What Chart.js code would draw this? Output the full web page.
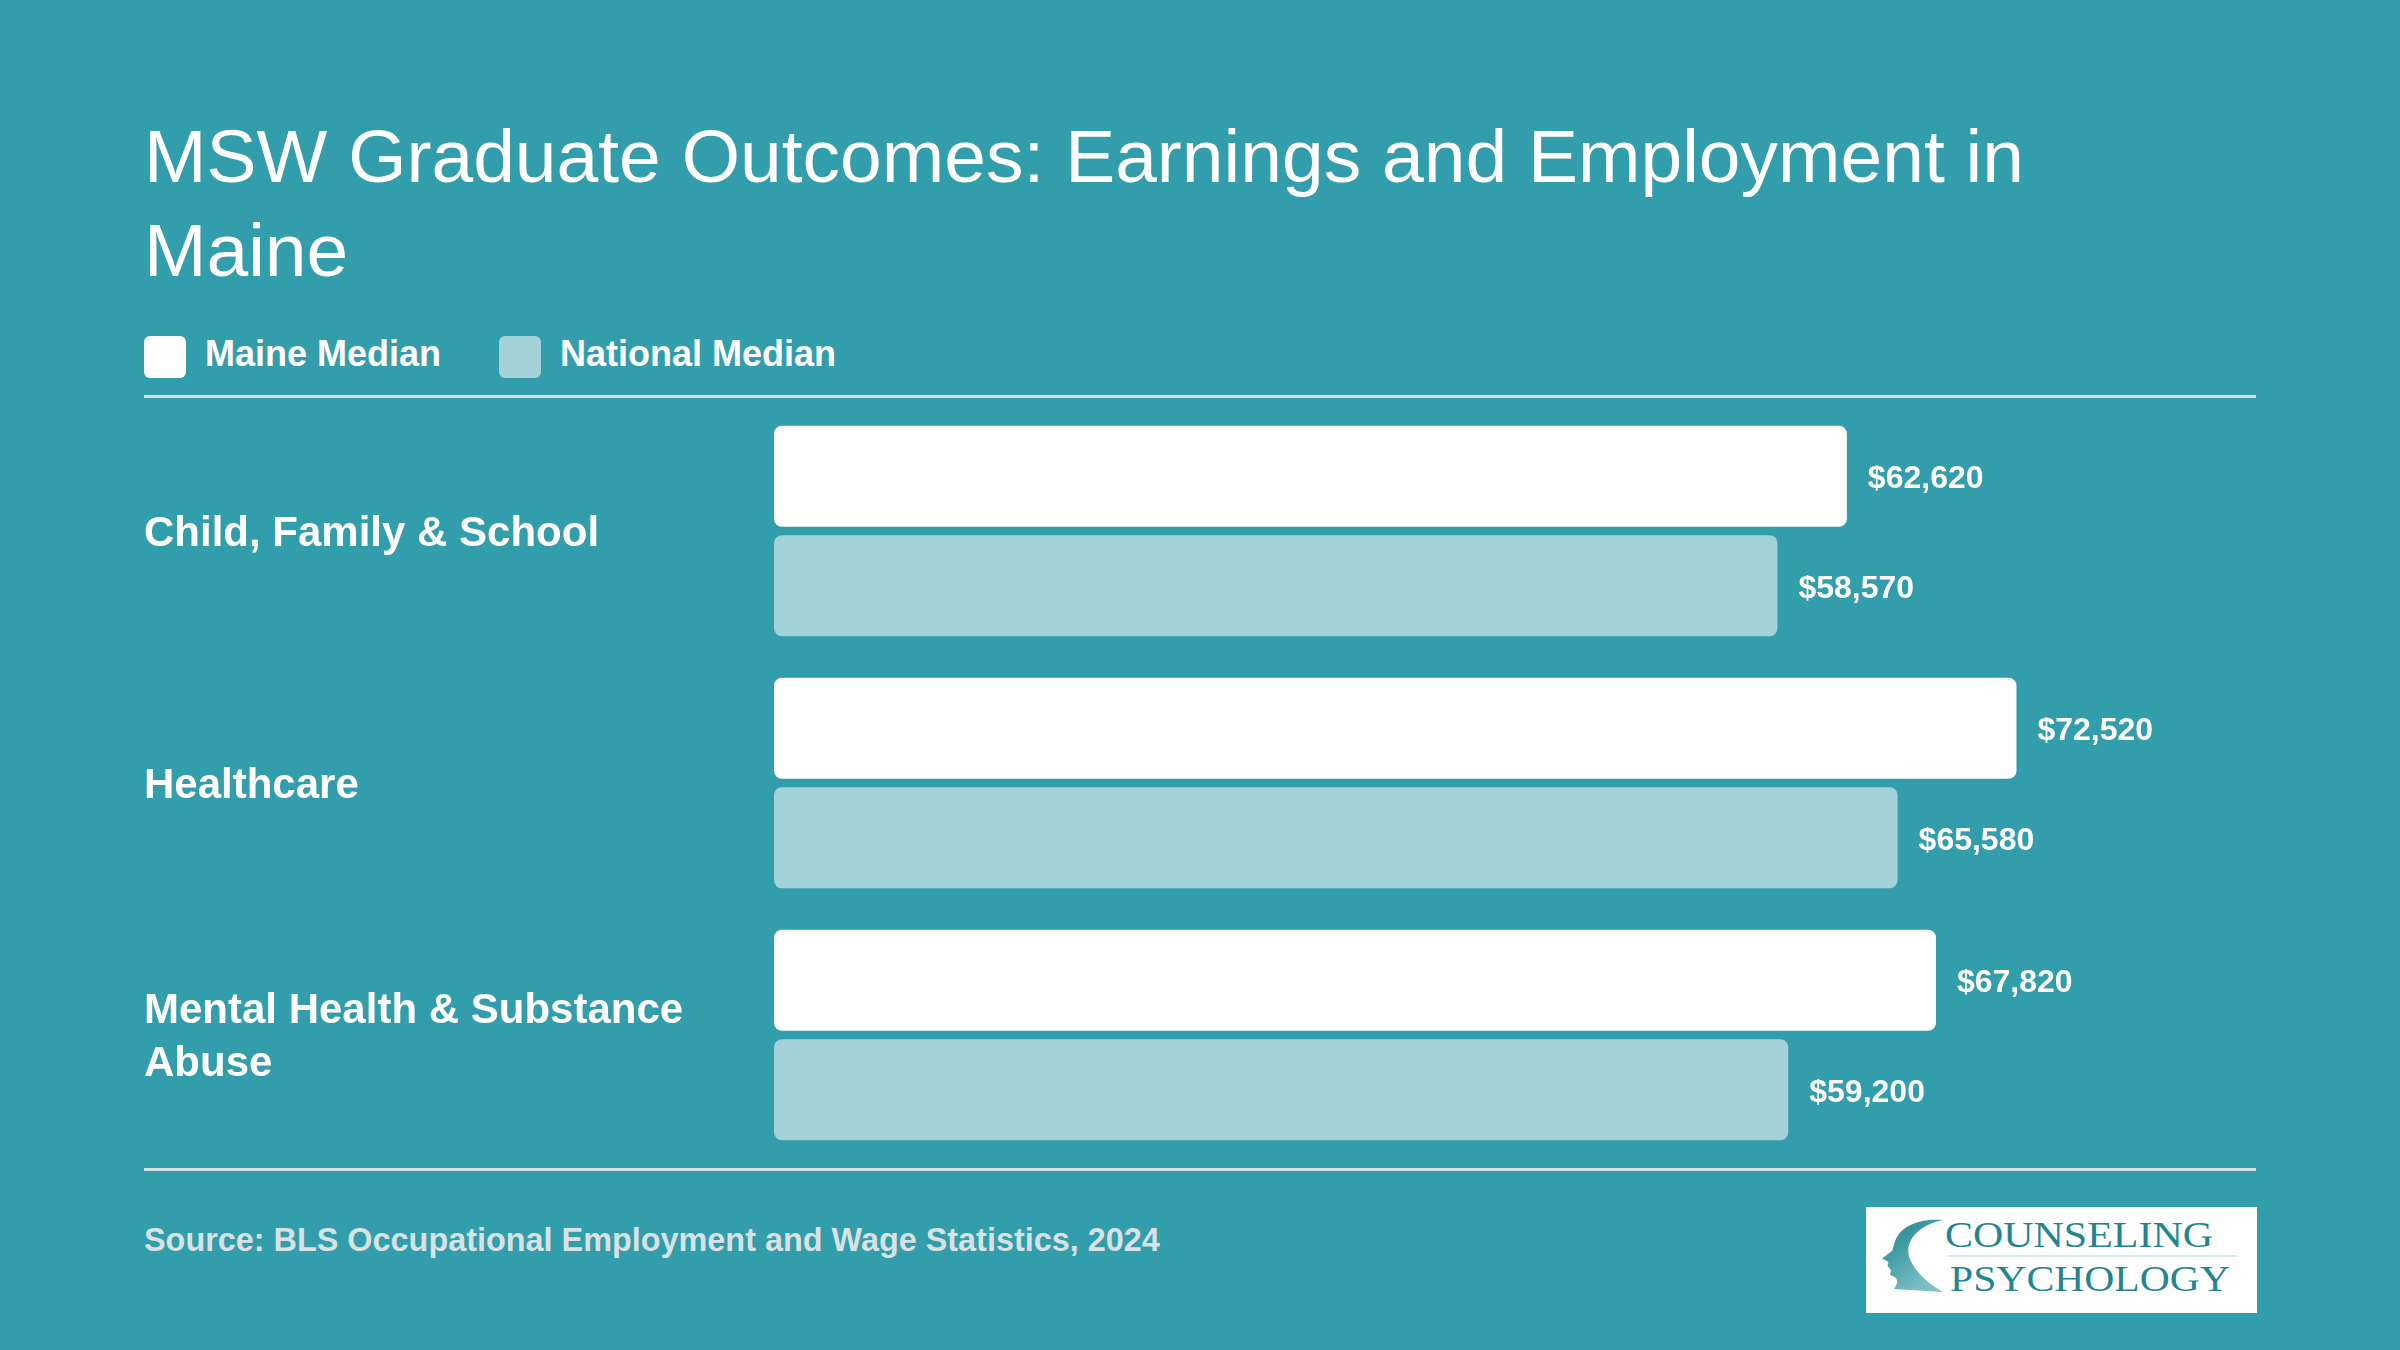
<!DOCTYPE html>
<html>
<head>
<meta charset="utf-8">
<script src="https://cdn.jsdelivr.net/npm/chart.js@4/dist/chart.umd.min.js"></script>
<style>
  body {
    margin: 0;
    width: 2400px;
    height: 1350px;
    background: #329dab;
    overflow: hidden;
    font-family: "Liberation Sans", Arial, sans-serif;
    position: relative;
  }
  #title {
    position: absolute;
    left: 144px;
    top: 110px;
    width: 2000px;
    color: #fff;
    font-size: 75px;
    line-height: 93.75px;
    font-weight: normal;
  }
  .legend-box {
    position: absolute;
    top: 336px;
    width: 42px;
    height: 42px;
    border-radius: 6px;
  }
  .legend-text {
    position: absolute;
    top: 336px;
    color: #fff;
    font-size: 36px;
    line-height: 36px;
    font-weight: bold;
    white-space: nowrap;
  }
  .rule {
    position: absolute;
    left: 144px;
    width: 2112px;
    height: 3px;
    background: #d6dfe2;
  }
  #chartWrap {
    position: absolute;
    left: 144px;
    top: 405px;
    width: 2112px;
    height: 756px;
  }
  #source {
    position: absolute;
    left: 144px;
    top: 1224px;
    color: #d9e1e4;
    font-size: 32.4px;
    line-height: 32px;
    font-weight: bold;
    white-space: nowrap;
  }
  #logo {
    position: absolute;
    left: 1866px;
    top: 1207px;
  }
</style>
</head>
<body>

<div id="title">MSW Graduate Outcomes: Earnings and Employment in Maine</div>

<div id="legend"></div>

<div class="rule" style="top:395px"></div>

<div id="chartWrap"><canvas id="chart" width="2112" height="756"></canvas></div>

<div class="rule" style="top:1168px"></div>

<div id="source">Source: BLS Occupational Employment and Wage Statistics, 2024</div>

<svg id="logo" width="391" height="106" viewBox="0 0 391 106">
  <defs>
    <linearGradient id="headGrad" x1="0" y1="0" x2="0.6" y2="1">
      <stop offset="0" stop-color="#17838e"/>
      <stop offset="1" stop-color="#7fbfc7"/>
    </linearGradient>
  </defs>
  <rect x="0" y="0" width="391" height="106" fill="#ffffff"/>
  <path fill="url(#headGrad)" d="M77 13 C57.3 11 36 17 29.5 33 L26 44 L16 51.5 L22.5 55 L21.5 59 L25 63 L24 68 C30.7 70.3 34 73 28 82 L77 85 C63 77 49 66 43 49.7 C39 33 53 18 77 13 Z"/>
  <text x="79" y="40" textLength="268" lengthAdjust="spacingAndGlyphs" font-family="'Liberation Serif', 'DejaVu Serif', serif" font-size="36" fill="#23858f">COUNSELING</text>
  <line x1="81" y1="49" x2="371" y2="49" stroke="#c6e3e7" stroke-width="1.5"/>
  <text x="84" y="84" textLength="280" lengthAdjust="spacingAndGlyphs" font-family="'Liberation Serif', 'DejaVu Serif', serif" font-size="35" fill="#23858f">PSYCHOLOGY</text>
</svg>

<script>
// data
const categories = ['Child, Family & School', 'Healthcare', ['Mental Health & Substance', 'Abuse']];
const seriesNames = ['Maine Median', 'National Median'];
const maineMedian = [62620, 72520, 67820];
const nationalMedian = [58570, 65580, 59200];
const seriesColors = ['#ffffff', '#a3d3d9'];

// legend (html)
const legend = document.getElementById("legend");
const legendX = [144, 499];
seriesNames.forEach((name, i) => {
    const box = document.createElement("div");
    box.className = "legend-box";
    box.style.left = legendX[i] + "px";
    box.style.background = seriesColors[i];
    legend.appendChild(box);

    const txt = document.createElement("div");
    txt.className = "legend-text";
    txt.style.left = (legendX[i] + 61) + "px";
    txt.innerText = name;
    legend.appendChild(txt);
});

// value labels at bar ends
const valueLabels = {
    id: 'valueLabels',
    afterDatasetsDraw(chart) {
        const ctx = chart.ctx;
        ctx.save();
        ctx.fillStyle = '#ffffff';
        ctx.font = 'bold 32px "Liberation Sans", Arial, sans-serif';
        ctx.textAlign = 'left';
        ctx.textBaseline = 'middle';
        chart.data.datasets.forEach((ds, di) => {
            chart.getDatasetMeta(di).data.forEach((bar, i) => {
                ctx.fillText('$' + ds.data[i].toLocaleString('en-US'), bar.x + 21, bar.y + 3);
            });
        });
        ctx.restore();
    }
};

new Chart(document.getElementById("chart"), {
    type: 'bar',
    data: {
        labels: categories,
        datasets: [{
            label: seriesNames[0],
            data: maineMedian,
            backgroundColor: seriesColors[0],
            borderRadius: 8,
            borderSkipped: false,
            categoryPercentage: 0.869,
            barPercentage: 0.922
        }, {
            label: seriesNames[1],
            data: nationalMedian,
            backgroundColor: seriesColors[1],
            borderRadius: 8,
            borderSkipped: false,
            categoryPercentage: 0.869,
            barPercentage: 0.922
        }]
    },
    options: {
        indexAxis: 'y',
        responsive: false,
        animation: false,
        layout: { padding: 0 },
        scales: {
            x: {
                display: false,
                min: 0,
                max: 86500
            },
            y: {
                grid: { display: false },
                border: { display: false },
                afterFit(scale) {
                    scale.width = 630;
                    // labels fit inside the bands, no extra room needed
                    scale.paddingTop = 0;
                    scale.paddingBottom = 0;
                },
                ticks: {
                    color: '#ffffff',
                    crossAlign: 'far',
                    padding: 0,
                    labelOffset: 3,
                    font: {
                        family: '"Liberation Sans", Arial, sans-serif',
                        size: 42,
                        weight: 'bold',
                        lineHeight: 1.25
                    }
                }
            }
        },
        plugins: {
            legend: { display: false },
            tooltip: { enabled: false }
        }
    },
    plugins: [valueLabels]
});
</script>
</body>
</html>
